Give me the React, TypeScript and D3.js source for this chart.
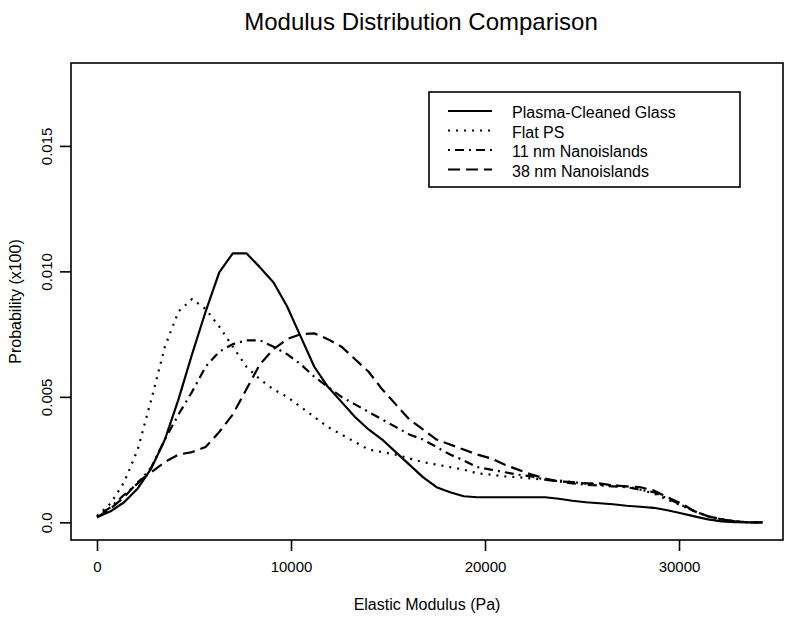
import { useEffect, useRef } from "react";
import * as d3 from "d3";

// elastic modulus grid (Pa), 700 Pa steps
const modulus = d3.range(0, 34301, 700);

const plasmaGlass = [
  0.0002, 0.00044, 0.0008, 0.00135, 0.00215, 0.0033, 0.0049, 0.0067, 0.0084, 0.00996,
  0.01072, 0.01072, 0.01016, 0.00956, 0.0086, 0.0074, 0.0062, 0.0054, 0.0048, 0.0042,
  0.0037, 0.0033, 0.0028, 0.0023, 0.0018, 0.0014, 0.0012, 0.00104, 0.001, 0.001,
  0.001, 0.001, 0.001, 0.001, 0.00094, 0.00086, 0.0008, 0.00076, 0.00072, 0.00066,
  0.00062, 0.00058, 0.00048, 0.00036, 0.00024, 0.00012, 0.00004, 0.00001, 0, 0,
];
const flatPS = [
  0.00025, 0.00075, 0.0016, 0.0029, 0.0049, 0.007, 0.0084, 0.0089, 0.0085, 0.0078,
  0.007, 0.0062, 0.0057, 0.0053, 0.005, 0.0046, 0.0042, 0.0038, 0.0035, 0.0032,
  0.0029, 0.0028, 0.0027, 0.00255, 0.0024, 0.0023, 0.0022, 0.0021, 0.00195, 0.0019,
  0.00183, 0.0018, 0.00175, 0.0017, 0.00167, 0.0016, 0.00155, 0.0015, 0.00147, 0.00143,
  0.0013, 0.00115, 0.0009, 0.00068, 0.00044, 0.00024, 0.00012, 0.00004, 0, 0,
];
const nano11 = [
  0.00025, 0.0006, 0.0011, 0.00155, 0.0022, 0.0033, 0.0043, 0.0052, 0.0062, 0.0068,
  0.0071, 0.00725, 0.00725, 0.007, 0.0067, 0.0063, 0.0058, 0.0054, 0.005, 0.0047,
  0.0044, 0.0041, 0.0038, 0.0035, 0.0033, 0.003, 0.0027, 0.00247, 0.0022, 0.0021,
  0.002, 0.0019, 0.00183, 0.0017, 0.00163, 0.00155, 0.0015, 0.00147, 0.00143, 0.0014,
  0.0013, 0.0012, 0.00095, 0.0007, 0.00044, 0.00024, 0.00012, 0.00004, 0, 0,
];
const nano38 = [
  0.0002, 0.00055, 0.001, 0.0016, 0.002, 0.0024, 0.0027, 0.0028, 0.003, 0.0036,
  0.0043, 0.0053, 0.0063, 0.0069, 0.0073, 0.0075, 0.00753, 0.0073, 0.007, 0.0065,
  0.006, 0.0053, 0.0047, 0.0041, 0.0037, 0.0033, 0.0031, 0.0029, 0.0027, 0.00255,
  0.0023, 0.0021, 0.0019, 0.00175, 0.00163, 0.0016, 0.00155, 0.00155, 0.00147, 0.00143,
  0.0014, 0.00127, 0.001, 0.00076, 0.00044, 0.00024, 0.00012, 0.00004, 0, 0,
];

const seriesNames = ["Plasma-Cleaned Glass", "Flat PS", "11 nm Nanoislands", "38 nm Nanoislands"];
const seriesValues = [plasmaGlass, flatPS, nano11, nano38];
const dashes = ["none", "2,6", "2,5,9,5", "12,6"];

const xTicks = [0, 10000, 20000, 30000];
const yTicks = [0, 0.005, 0.01, 0.015];
const yTickLabels = ["0.0", "0.005", "0.010", "0.015"];

const FONT = "'Liberation Sans', Arial, sans-serif";

export default function App() {
  const svgRef = useRef<SVGSVGElement | null>(null);

  useEffect(() => {
    const width = 800;
    const height = 620;
    const box = { left: 71, right: 783, top: 63, bottom: 540 };

    const svg = d3.select(svgRef.current);
    svg.selectAll("*").remove();

    const x = d3.scaleLinear().domain([-1340, 35360]).range([box.left, box.right]);
    const y = d3.scaleLinear().domain([-0.000704, 0.018304]).range([box.bottom, box.top]);

    svg.append("rect").attr("width", width).attr("height", height).attr("fill", "#fff");

    // title
    svg
      .append("text")
      .attr("x", 421)
      .attr("y", 30)
      .attr("text-anchor", "middle")
      .attr("font-family", FONT)
      .attr("font-size", 24)
      .text("Modulus Distribution Comparison");

    // curves
    const line = d3
      .line<number>()
      .x((d, i) => x(modulus[i]))
      .y((d) => y(d));

    seriesValues.forEach((vals, i) => {
      svg
        .append("path")
        .datum(vals)
        .attr("fill", "none")
        .attr("stroke", "#000")
        .attr("stroke-width", 2.2)
        .attr("stroke-dasharray", dashes[i])
        .attr("stroke-linejoin", "round")
        .attr("d", line);
    });

    // plot box
    svg
      .append("rect")
      .attr("x", box.left)
      .attr("y", box.top)
      .attr("width", box.right - box.left)
      .attr("height", box.bottom - box.top)
      .attr("fill", "none")
      .attr("stroke", "#000")
      .attr("stroke-width", 1.6);

    // x axis
    const gx = svg
      .append("g")
      .attr("transform", `translate(0,${box.bottom})`)
      .call(d3.axisBottom(x).tickValues(xTicks).tickSize(11).tickPadding(10).tickFormat(d3.format("d")));
    gx.select(".domain").remove();
    gx.selectAll("line").attr("stroke-width", 1.6);
    gx.selectAll("text").attr("font-family", FONT).attr("font-size", 15).attr("fill", "#000");

    // y axis with rotated labels
    const gy = svg
      .append("g")
      .attr("transform", `translate(${box.left},0)`)
      .call(d3.axisLeft(y).tickValues(yTicks).tickSize(11).tickFormat((d, i) => yTickLabels[i]));
    gy.select(".domain").remove();
    gy.selectAll("line").attr("stroke-width", 1.6);
    gy.selectAll("text")
      .attr("font-family", FONT)
      .attr("font-size", 15)
      .attr("fill", "#000")
      .attr("x", null)
      .attr("dy", null)
      .attr("text-anchor", "middle")
      .attr("transform", "translate(-19,0) rotate(-90)");

    // axis titles
    svg
      .append("text")
      .attr("x", 427)
      .attr("y", 610)
      .attr("text-anchor", "middle")
      .attr("font-family", FONT)
      .attr("font-size", 16)
      .text("Elastic Modulus (Pa)");
    svg
      .append("text")
      .attr("transform", `translate(21,${(box.top + box.bottom) / 2}) rotate(-90)`)
      .attr("text-anchor", "middle")
      .attr("font-family", FONT)
      .attr("font-size", 16)
      .text("Probability (x100)");

    // legend
    const legend = svg.append("g");
    legend
      .append("rect")
      .attr("x", 429)
      .attr("y", 92)
      .attr("width", 311)
      .attr("height", 95)
      .attr("fill", "#fff")
      .attr("stroke", "#000")
      .attr("stroke-width", 1.6);
    seriesNames.forEach((name, i) => {
      const ry = 113 + i * 19.5;
      legend
        .append("line")
        .attr("x1", 448)
        .attr("x2", 492)
        .attr("y1", ry - 2)
        .attr("y2", ry - 2)
        .attr("stroke", "#000")
        .attr("stroke-width", 2.2)
        .attr("stroke-dasharray", dashes[i]);
      legend
        .append("text")
        .attr("x", 512)
        .attr("y", ry + 5)
        .attr("font-family", FONT)
        .attr("font-size", 16)
        .text(name);
    });
  }, []);

  return (
    <svg
      ref={svgRef}
      width={800}
      height={620}
      style={{ position: "absolute", left: 0, top: 0, display: "block" }}
    ></svg>
  );
}
